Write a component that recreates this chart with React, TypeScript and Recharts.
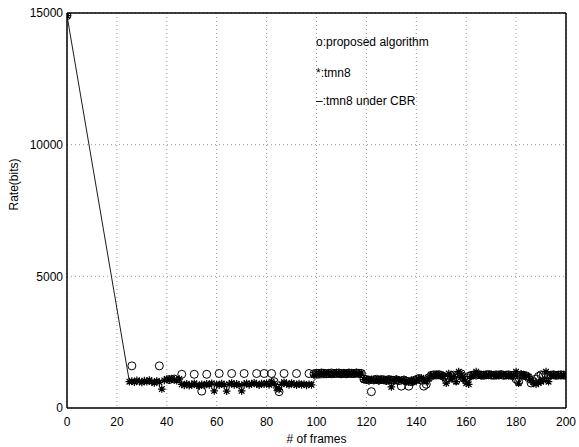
import {
  ComposedChart,
  Line,
  Scatter,
  XAxis,
  YAxis,
  CartesianGrid,
  ReferenceLine,
} from "recharts";

// frame numbers / tick labels
const X_TICKS = [0, 20, 40, 60, 80, 100, 120, 140, 160, 180, 200];
const Y_TICKS = [0, 5000, 10000, 15000];
const START_RATE = 14900; // frame 0, all three runs
const FIRST_FRAME = 25; // dense data starts here

// *: tmn8, frames 25..200
const tmn8Rates = [
  1000, 1020, 980, 1050, 1010, 970, 1040, 1000, 1060, 990,
  950, 1030, 980, 720, 1050, 1100, 1060, 1120, 1080, 1040,
  1100, 900, 860, 920, 850, 880, 940, 870, 830, 900,
  860, 920, 880, 940, 650, 900, 870, 930, 880, 640,
  900, 950, 880, 920, 860, 650, 900, 940, 880, 920,
  960, 900, 870, 930, 900, 950, 880, 1000, 920, 760,
  700, 900, 980, 920, 880, 950, 900, 870, 930, 880,
  910, 860, 900, 880, 1250, 1320, 1300, 1340, 1310, 1290,
  1330, 1300, 1320, 1350, 1310, 1290, 1330, 1300, 1340, 1310,
  1320, 1350, 1300, 1330, 1080, 1060, 1040, 1090, 1050, 1070,
  1030, 1080, 1060, 1020, 1090, 800, 1050, 1100, 1070, 1040,
  1080, 1020, 980, 1060, 1000, 1040, 1100, 1150, 1080, 1000,
  1120, 1250, 1220, 1280, 1240, 1260, 1200, 940, 1310, 1100,
  1200, 1000, 1380, 1250, 1100, 940, 900, 1200, 1250, 1380,
  1260, 1230, 1270, 1250, 1240, 1280, 1260, 1230, 1250, 1270,
  1240, 1260, 1230, 1250, 1200, 1380, 940, 1300, 1250, 1220,
  1200, 1050, 980, 900, 950, 1000, 1050, 1380, 1000, 1250,
  1270, 1240, 1260, 1230, 1250, 1240,
];

// -: tmn8 under CBR, frames 25..200
const cbrRates = [
  1000, 1010, 1000, 1020, 1010, 1000, 1020, 1010, 1030, 1000,
  990, 1010, 1000, 980, 1020, 1050, 1060, 1070, 1060, 1050,
  1040, 940, 920, 930, 910, 920, 930, 910, 900, 920,
  910, 930, 920, 930, 880, 920, 910, 930, 920, 900,
  920, 940, 920, 930, 910, 900, 920, 940, 920, 930,
  940, 920, 910, 930, 920, 940, 930, 960, 940, 900,
  880, 920, 950, 930, 910, 940, 920, 910, 930, 910,
  920, 900, 910, 920, 1050, 1130, 1140, 1150, 1150, 1160,
  1160, 1150, 1160, 1170, 1160, 1150, 1170, 1160, 1170, 1160,
  1170, 1180, 1170, 1160, 1080, 1060, 1050, 1040, 1050, 1060,
  1050, 1060, 1050, 1040, 1060, 960, 1040, 1070, 1060, 1050,
  1060, 1040, 1020, 1050, 1030, 1040, 1080, 1120, 1060, 1020,
  1100, 1200, 1210, 1230, 1220, 1230, 1190, 1020, 1230, 1120,
  1180, 1080, 1260, 1220, 1120, 1000, 980, 1180, 1220, 1250,
  1230, 1220, 1240, 1230, 1220, 1240, 1230, 1220, 1230, 1240,
  1220, 1230, 1220, 1230, 1200, 1240, 1020, 1220, 1230, 1210,
  1180, 1060, 1000, 940, 960, 1000, 1060, 1200, 1060, 1220,
  1230, 1220, 1230, 1220, 1230, 1220,
];

// o: proposed algorithm, skipped frames before 99
const proposedSparseFrames = [26, 37, 41, 43, 46, 51, 54, 56, 61, 66, 71, 76, 79, 82, 83, 85, 87, 92, 97];
const proposedSparseRates = [1600, 1600, 1080, 1100, 1280, 1280, 640, 1280, 1310, 1310, 1310, 1310, 1310, 1310, 1000, 620, 1310, 1310, 1310];
// then every frame 99..200
const PROPOSED_DENSE_START = 99;
const proposedDenseRates = [
  1300, 1320, 1310, 1330, 1320, 1300, 1320, 1330, 1310, 1320,
  1330, 1310, 1320, 1300, 1330, 1320, 1310, 1330, 1320, 1310,
  1100, 1080, 1060, 620, 1070, 1090, 1060, 1080, 1070, 1050,
  1080, 1060, 1050, 1070, 1040, 830, 1060, 1020, 830, 1000,
  1040, 1080, 1120, 1060, 830, 900, 1150, 1240, 1260, 1250,
  1270, 1240, 1200, 1080, 1150, 1220, 1250, 1050, 1280, 1300,
  1150, 1050, 1200, 1240, 1260, 1250, 1270, 1250, 1240, 1260,
  1270, 1250, 1240, 1260, 1250, 1270, 1240, 1250, 1260, 1240,
  1250, 1100, 1000, 1250, 1240, 1220, 1150, 950, 1000, 1100,
  1200, 1260, 1250, 1270, 1240, 1250, 1260, 1240, 1250, 1260,
  1250, 1240,
];

type Pt = { x: number; y: number };

const tmn8Data: Pt[] = [{ x: 0, y: START_RATE }].concat(
  tmn8Rates.map((y, i) => ({ x: FIRST_FRAME + i, y }))
);
const cbrData: Pt[] = [{ x: 0, y: START_RATE }].concat(
  cbrRates.map((y, i) => ({ x: FIRST_FRAME + i, y }))
);
const proposedData: Pt[] = [{ x: 0, y: START_RATE }]
  .concat(proposedSparseFrames.map((x, i) => ({ x, y: proposedSparseRates[i] })))
  .concat(proposedDenseRates.map((y, i) => ({ x: PROPOSED_DENSE_START + i, y })));

const FONT = "'Liberation Sans', Arial, Helvetica, sans-serif";

const Circle = (props: any) => {
  const { cx, cy } = props;
  if (cx == null || cy == null) return null;
  return <circle cx={cx} cy={cy} r={4} fill="none" stroke="#000" strokeWidth={1} />;
};

const Star = (props: any) => {
  const { cx, cy } = props;
  if (cx == null || cy == null) return null;
  const s = 3.8;
  const d = 2.8;
  return (
    <path
      d={`M${cx - s},${cy}H${cx + s}M${cx},${cy - s}V${cy + s}M${cx - d},${cy - d}L${cx + d},${cy + d}M${cx - d},${cy + d}L${cx + d},${cy - d}`}
      stroke="#000"
      strokeWidth={1.2}
      fill="none"
    />
  );
};

const tick = { fill: "#000", fontSize: 12, fontFamily: FONT };

export default function App() {
  return (
    <div style={{ position: "absolute", left: 0, top: 0, width: 579, height: 447, background: "#fff" }}>
      <ComposedChart
        width={579}
        height={447}
        margin={{ top: 13, right: 13, left: 0, bottom: 0 }}
      >
        <CartesianGrid strokeDasharray="1 3" stroke="#999" horizontalValues={Y_TICKS} verticalValues={X_TICKS} />
        <XAxis
          type="number"
          dataKey="x"
          domain={[0, 200]}
          ticks={X_TICKS}
          interval={0}
          allowDataOverflow
          height={39}
          tick={tick}
          tickLine={false}
          tickSize={4}
          tickMargin={5}
          axisLine={{ stroke: "#000", strokeWidth: 1.5 }}
          label={{ value: "# of frames", position: "insideBottom", offset: 4, fill: "#000", fontSize: 12, fontFamily: FONT }}
        />
        <YAxis
          type="number"
          dataKey="y"
          domain={[0, 15000]}
          ticks={Y_TICKS}
          interval={0}
          allowDataOverflow
          width={67}
          tick={tick}
          tickLine={false}
          tickSize={4}
          tickMargin={0}
          axisLine={{ stroke: "#000", strokeWidth: 1.5 }}
          label={{ value: "Rate(bits)", angle: -90, position: "insideLeft", offset: 14, fill: "#000", fontSize: 12, fontFamily: FONT }}
        />
        <ReferenceLine y={15000} stroke="#000" strokeWidth={1.5} />
        <ReferenceLine x={200} stroke="#000" strokeWidth={1.5} />
        <Line
          data={cbrData}
          dataKey="y"
          type="linear"
          stroke="#000"
          strokeWidth={0.9}
          dot={false}
          activeDot={false}
          isAnimationActive={false}
        />
        <Scatter data={tmn8Data} dataKey="y" shape={<Star />} isAnimationActive={false} />
        <Scatter data={proposedData} dataKey="y" shape={<Circle />} isAnimationActive={false} />
      </ComposedChart>
      <div style={{ position: "absolute", left: 316, top: 35, fontFamily: FONT, fontSize: 12, lineHeight: "14px", color: "#000" }}>
        o:proposed algorithm
      </div>
      <div style={{ position: "absolute", left: 316, top: 66, fontFamily: FONT, fontSize: 12, lineHeight: "14px", color: "#000" }}>
        *:tmn8
      </div>
      <div style={{ position: "absolute", left: 316, top: 94, fontFamily: FONT, fontSize: 12, lineHeight: "14px", color: "#000" }}>
        –:tmn8 under CBR
      </div>
    </div>
  );
}
